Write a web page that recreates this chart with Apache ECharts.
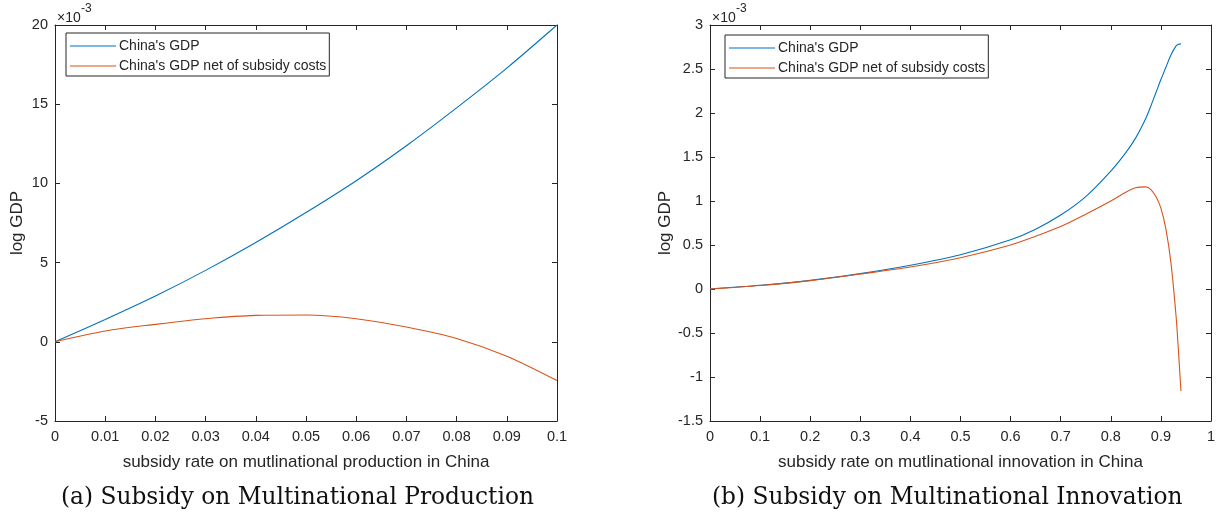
<!DOCTYPE html>
<html>
<head>
<meta charset="utf-8">
<script src="https://cdn.jsdelivr.net/npm/echarts@6/dist/echarts.min.js"></script>
<style>
html,body{margin:0;padding:0;background:#fff;}
#chart{width:1223px;height:518px;}
</style>
</head>
<body>
<div id="chart"></div>
<script>
// ---- Data (values in units of 1e-3) ----
const seriesNames = ["China's GDP", "China's GDP net of subsidy costs"];

// Panel (a): subsidy on multinational production
const prodRate = [0, 0.01, 0.02, 0.03, 0.04, 0.05, 0.06, 0.07, 0.08, 0.09, 0.1];
const prodGDP = [0, 1.41, 2.89, 4.51, 6.27, 8.16, 10.17, 12.38, 14.77, 17.28, 20.0];
const prodGDPNet = [0, 0.68, 1.10, 1.46, 1.67, 1.69, 1.46, 0.93, 0.21, -0.91, -2.45];

// Panel (b): subsidy on multinational innovation
const innovRate = [0, 0.1, 0.2, 0.3, 0.4, 0.5, 0.6, 0.65, 0.7, 0.75, 0.8, 0.83, 0.85, 0.87, 0.88, 0.89, 0.9, 0.91, 0.92, 0.93, 0.935, 0.94];
const innovGDP = [0, 0.042, 0.098, 0.175, 0.27, 0.39, 0.56, 0.68, 0.84, 1.05, 1.34, 1.55, 1.72, 1.94, 2.08, 2.23, 2.38, 2.52, 2.66, 2.76, 2.78, 2.785];
const innovGDPNet = [0, 0.04, 0.095, 0.17, 0.25, 0.355, 0.5, 0.6, 0.71, 0.85, 1.0, 1.1, 1.15, 1.16, 1.13, 1.05, 0.92, 0.68, 0.30, -0.29, -0.7, -1.16];

// Axis settings
const prodX = {min: 0, max: 0.1, interval: 0.01};
const prodY = {min: -5, max: 20, interval: 5};
const innovX = {min: 0, max: 1, interval: 0.1};
const innovY = {min: -1.5, max: 3, interval: 0.5};

const xTitles = ['subsidy rate on mutlinational production in China', 'subsidy rate on mutlinational innovation in China'];
const captions = ['(a) Subsidy on Multinational Production', '(b) Subsidy on Multinational Innovation'];
const yTitle = 'log GDP';

// ---- Styling ----
const AX = '#262626';
const FONT = '"Liberation Sans", Helvetica, Arial, sans-serif';
const SERIF = '"DejaVu Serif", "Liberation Serif", serif';
const colors = ['#0072BD', '#D95319'];

const grids = [
  {left: 55, top: 25, width: 502, height: 396},
  {left: 710, top: 25, width: 501, height: 396}
];

function pair(a, b) { return a.map((v, i) => [v, b[i]]); }

const lineAx = {show: true, onZero: false, lineStyle: {color: AX, width: 1}};
const tickAx = {show: true, inside: true, length: 5, lineStyle: {color: AX}};

function xAxisMain(gi, s, name) {
  return {
    type: 'value', gridIndex: gi, min: s.min, max: s.max, interval: s.interval,
    position: 'bottom',
    name: name, nameLocation: 'middle', nameGap: 33,
    nameTextStyle: {color: AX, fontFamily: FONT, fontSize: 17},
    axisLine: lineAx, axisTick: tickAx,
    axisLabel: {color: AX, fontFamily: FONT, fontSize: 14.5, margin: 8},
    splitLine: {show: false}
  };
}
function xAxisTop(gi, s) {
  return {
    type: 'value', gridIndex: gi, min: s.min, max: s.max, interval: s.interval,
    position: 'top',
    axisLine: lineAx, axisTick: tickAx,
    axisLabel: {show: false}, splitLine: {show: false}
  };
}
function yAxisMain(gi, s) {
  return {
    type: 'value', gridIndex: gi, min: s.min, max: s.max, interval: s.interval,
    position: 'left',
    name: yTitle, nameLocation: 'middle', nameGap: 29, nameRotate: 90,
    nameTextStyle: {color: AX, fontFamily: FONT, fontSize: 17},
    axisLine: lineAx, axisTick: tickAx,
    axisLabel: {color: AX, fontFamily: FONT, fontSize: 14.5, margin: 7},
    splitLine: {show: false}
  };
}
function yAxisRight(gi, s) {
  return {
    type: 'value', gridIndex: gi, min: s.min, max: s.max, interval: s.interval,
    position: 'right',
    axisLine: lineAx, axisTick: tickAx,
    axisLabel: {show: false}, splitLine: {show: false}
  };
}

function lineSeries(name, xi, yi, data, color) {
  return {
    name: name, type: 'line', xAxisIndex: xi, yAxisIndex: yi,
    data: data, smooth: 0.3, symbol: 'none', showSymbol: false,
    lineStyle: {color: color, width: 1.1}, itemStyle: {color: color},
    animation: false
  };
}

function legendFor(left, top) {
  return {
    orient: 'vertical', left: left, top: top,
    data: seriesNames,
    icon: 'rect',
    itemWidth: 46, itemHeight: 1.2, itemGap: 0,
    padding: [3, 3, 0, 4],
    borderColor: AX, borderWidth: 1, backgroundColor: '#fff',
    textStyle: {color: AX, fontFamily: FONT, fontSize: 14, lineHeight: 20, padding: [0, 0, 0, -2]},
    selectedMode: false
  };
}

function sci(x) {
  return [
    {type: 'text', left: x, top: 11, style: {text: '×10', fontFamily: FONT, fontSize: 14, fill: AX}},
    {type: 'text', left: x + 24, top: 3, style: {text: '-3', fontFamily: FONT, fontSize: 12, fill: AX}}
  ];
}

const option = {
  backgroundColor: '#fff',
  animation: false,
  grid: grids,
  legend: [legendFor(66, 33), legendFor(725, 35)],
  xAxis: [
    xAxisMain(0, prodX, xTitles[0]), xAxisTop(0, prodX),
    xAxisMain(1, innovX, xTitles[1]), xAxisTop(1, innovX)
  ],
  yAxis: [
    yAxisMain(0, prodY), yAxisRight(0, prodY),
    yAxisMain(1, innovY), yAxisRight(1, innovY)
  ],
  series: [
    lineSeries(seriesNames[0], 0, 0, pair(prodRate, prodGDP), colors[0]),
    lineSeries(seriesNames[1], 0, 0, pair(prodRate, prodGDPNet), colors[1]),
    lineSeries(seriesNames[0], 2, 2, pair(innovRate, innovGDP), colors[0]),
    lineSeries(seriesNames[1], 2, 2, pair(innovRate, innovGDPNet), colors[1])
  ],
  graphic: [].concat(
    sci(57), sci(712),
    [
      {type: 'text', left: 61, top: 486, style: {text: captions[0], fontFamily: SERIF, fontSize: 23.3, fill: '#111'}},
      {type: 'text', left: 712, top: 486, style: {text: captions[1], fontFamily: SERIF, fontSize: 23.3, fill: '#111'}}
    ]
  )
};

const chart = echarts.init(document.getElementById('chart'), null, {renderer: 'canvas'});
chart.setOption(option);
</script>
</body>
</html>
